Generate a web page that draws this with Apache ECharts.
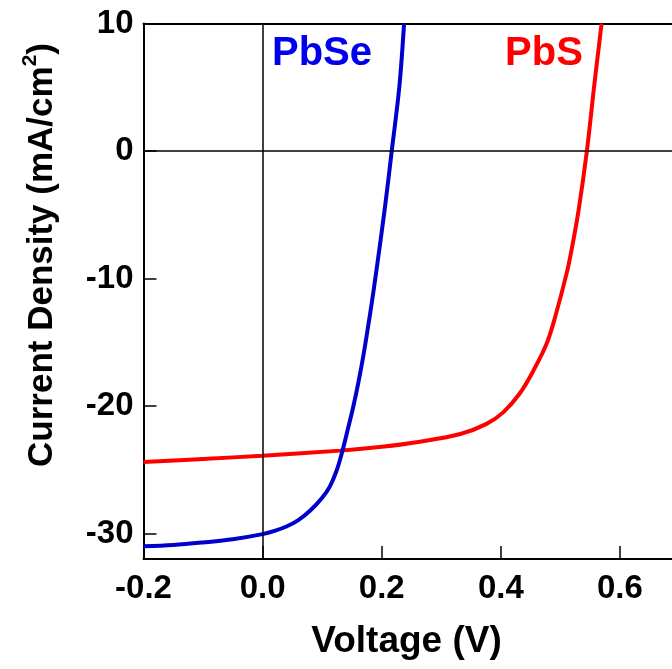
<!DOCTYPE html>
<html>
<head>
<meta charset="utf-8">
<script src="https://cdn.jsdelivr.net/npm/echarts@6/dist/echarts.min.js"></script>
<style>html,body{margin:0;padding:0;background:#fff;}#c{width:672px;height:669px;}</style>
</head>
<body>
<div id="c"></div>
<script>
// Voltage (V) / Current density (mA/cm^2)
const pbseV = [-0.2, -0.15, -0.1, -0.05, 0.0, 0.02, 0.04, 0.06, 0.08, 0.1, 0.113, 0.124, 0.133, 0.144, 0.152, 0.161, 0.169, 0.176, 0.183, 0.1904, 0.2055, 0.2168, 0.2296, 0.2375];
const pbseJ = [-31.0, -30.9, -30.7, -30.45, -30.05, -29.8, -29.45, -28.95, -28.2, -27.2, -26.3, -25.1, -23.7, -21.65, -20.1, -18.1, -16.1, -14.1, -12.0, -9.6, -4.4, 0.0, 5.05, 10.0];
const pbsV = [-0.2, -0.1, 0.0, 0.13, 0.2, 0.264, 0.332, 0.376, 0.404, 0.432, 0.455, 0.477, 0.4913, 0.511, 0.519, 0.5304, 0.5445, 0.5565, 0.5692];
const pbsJ = [-24.4, -24.15, -23.9, -23.5, -23.2, -22.8, -22.2, -21.4, -20.5, -19.0, -17.2, -15.1, -13.0, -9.5, -7.7, -4.7, 0.0, 5.0, 10.0];
const xTicks = [-0.2, 0.0, 0.2, 0.4, 0.6];
const yTicks = [-30, -20, -10, 0, 10];
const seriesNames = ['PbSe', 'PbS'];

const FONT = '"Liberation Sans", Arial, sans-serif';
const chart = echarts.init(document.getElementById('c'), null, {renderer: 'canvas'});
const zip = (a, b) => a.map((v, i) => [v, b[i]]);

chart.setOption({
  animation: false,
  backgroundColor: '#fff',
  grid: {left: 143.5, top: 23.5, width: 536, height: 535.5, containLabel: false, outerBoundsMode: 'none'},
  xAxis: [{
    type: 'value', min: -0.2, max: 0.7,
    position: 'bottom',
    name: 'Voltage (V)', nameLocation: 'middle', nameGap: 64,
    nameTextStyle: {fontFamily: FONT, fontWeight: 'bold', fontSize: 37, color: '#000', padding: [0, 10, 0, 0]},
    axisLine: {show: true, onZero: false, lineStyle: {color: '#000', width: 2}},
    axisTick: {show: true, inside: true, length: 13, customValues: xTicks, lineStyle: {color: '#000', width: 1.5}},
    axisLabel: {margin: 13, fontFamily: FONT, fontWeight: 'bold', fontSize: 33, color: '#000',
      customValues: xTicks, formatter: v => Number(v).toFixed(1)},
    splitLine: {show: false}
  }, {
    type: 'value', min: -0.2, max: 0.7, position: 'top',
    axisLine: {show: true, onZero: false, lineStyle: {color: '#000', width: 2}},
    axisTick: {show: false}, axisLabel: {show: false}, splitLine: {show: false}
  }],
  yAxis: {
    type: 'value', min: -32, max: 10,
    axisLine: {show: true, onZero: false, lineStyle: {color: '#000', width: 2}},
    axisTick: {show: true, inside: true, length: 13, customValues: yTicks, lineStyle: {color: '#000', width: 1.5}},
    axisLabel: {margin: 10, fontFamily: FONT, fontWeight: 'bold', fontSize: 33, color: '#000', customValues: yTicks},
    splitLine: {show: false}
  },
  series: [{
    name: seriesNames[0], type: 'line', data: zip(pbseV, pbseJ),
    smooth: 0.35, showSymbol: false, clip: true,
    lineStyle: {color: '#0000cc', width: 4}, itemStyle: {color: '#0000cc'},
    markLine: {
      silent: true, symbol: 'none', label: {show: false},
      lineStyle: {color: '#000', width: 1.5, type: 'solid'},
      data: [{xAxis: 0}, {yAxis: 0}]
    },
    z: 3
  }, {
    name: seriesNames[1], type: 'line', data: zip(pbsV, pbsJ),
    smooth: 0.35, showSymbol: false, clip: true,
    lineStyle: {color: '#ff0000', width: 4}, itemStyle: {color: '#ff0000'},
    z: 2
  }],
  graphic: [
    {type: 'text', x: 322, y: 54, z: 10, style: {text: seriesNames[0], fill: '#0000ee', font: 'bold 40px ' + FONT, align: 'center', verticalAlign: 'middle'}},
    {type: 'text', x: 544, y: 54, z: 10, style: {text: seriesNames[1], fill: '#ff0000', font: 'bold 40px ' + FONT, align: 'center', verticalAlign: 'middle'}},
    {type: 'text', x: 40, y: 255, rotation: Math.PI / 2, z: 10,
      style: {
        text: '{a|Current Density (mA/cm}{s|2}{a|)}',
        align: 'center', verticalAlign: 'middle',
        rich: {
          a: {fontFamily: FONT, fontWeight: 'bold', fontSize: 35, lineHeight: 40, fill: '#000', verticalAlign: 'bottom'},
          s: {fontFamily: FONT, fontWeight: 'bold', fontSize: 21, lineHeight: 22, fill: '#000', verticalAlign: 'top'}
        }
      }}
  ]
});
</script>
</body>
</html>
